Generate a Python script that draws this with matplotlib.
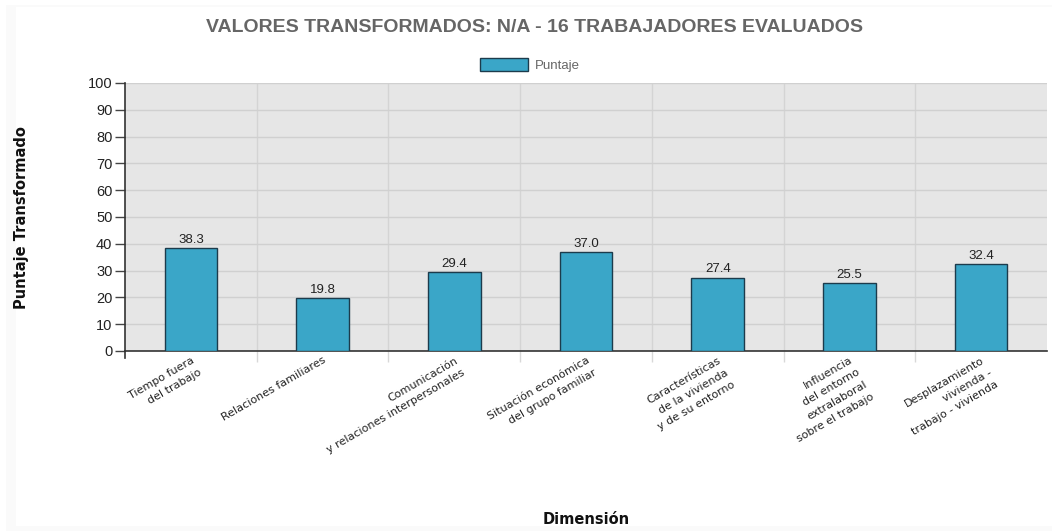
import matplotlib
matplotlib.use("Agg")
import matplotlib.pyplot as plt
from matplotlib.patches import Rectangle, Patch
from matplotlib.transforms import ScaledTranslation

categories = [
    "Tiempo fuera\ndel trabajo",
    "Relaciones familiares",
    "Comunicación\ny relaciones interpersonales",
    "Situación económica\ndel grupo familiar",
    "Características\nde la vivienda\ny de su entorno",
    "Influencia\ndel entorno\nextralaboral\nsobre el trabajo",
    "Desplazamiento\nvivienda -\ntrabajo - vivienda",
]
values = [38.3, 19.8, 29.4, 37.0, 27.4, 25.5, 32.4]
yticks = [0, 10, 20, 30, 40, 50, 60, 70, 80, 90, 100]

title = "VALORES TRANSFORMADOS: N/A - 16 TRABAJADORES EVALUADOS"
arial = ["Liberation Sans", "DejaVu Sans"]

fig = plt.figure(figsize=(10.52, 5.31), dpi=100, facecolor="white")
# very faint outer panel edges
faint = "#fafafa"
fig.patches.append(Rectangle((6/1052, 0), 10/1052, 1 - 5/531, transform=fig.transFigure,
                             facecolor=faint, edgecolor="none", zorder=-10))
fig.patches.append(Rectangle((6/1052, 1 - 7/531), 1, 2/531, transform=fig.transFigure,
                             facecolor=faint, edgecolor="none", zorder=-10))
fig.patches.append(Rectangle((6/1052, 0), 1, 5/531, transform=fig.transFigure,
                             facecolor=faint, edgecolor="none", zorder=-10))

ax = fig.add_axes([125/1052, 180/531, 922/1052, 268/531])
ax.set_facecolor("#e6e6e6")

x = list(range(len(categories)))
bars = ax.bar(x, values, width=0.4, color="#3aa6c8", edgecolor="#1c3b4c", linewidth=1.0, zorder=3)
ax.bar_label(bars, labels=[f"{v:.1f}" for v in values], padding=1.5, fontsize=9.5,
             color="#222222", family=arial)

ax.set_xlim(-0.5, len(categories) - 0.5)
ax.set_ylim(0, 100)
ax.set_yticks(yticks)
ax.set_yticklabels([str(t) for t in yticks], fontsize=10.5, color="#222222", family=arial)
ax.set_xticks(x)
ax.set_xticklabels(categories, rotation=30, ha="right", va="top", rotation_mode="anchor",
                   fontsize=8, color="#222222", multialignment="right", linespacing=1.52)
shift = ScaledTranslation(-4/100, 0, fig.dpi_scale_trans)
for lbl in ax.get_xticklabels():
    lbl.set_transform(lbl.get_transform() + shift)
ax.set_xticks([i + 0.5 for i in x[:-1]], minor=True)

ax.tick_params(axis="x", which="major", length=0, pad=3)
ax.tick_params(axis="x", which="minor", length=8, color="#d8d8d8", width=1)
ax.tick_params(axis="y", which="major", length=7, color="#444444", width=1, pad=2)

ax.grid(axis="y", which="major", color="#d0d0d0", linewidth=1, zorder=0)
ax.grid(axis="x", which="minor", color="#d4d4d4", linewidth=1, zorder=0)
ax.set_axisbelow(True)

for s in ["top", "right"]:
    ax.spines[s].set_visible(False)
for s in ["left", "bottom"]:
    ax.spines[s].set_color("#333333")
    ax.spines[s].set_linewidth(1.2)
ax.plot([0, 0], [0, -0.027], transform=ax.transAxes, color="#333333", lw=1.2, clip_on=False)

fig.text(535/1052, 1 - 27/531, title, ha="center", va="center", fontsize=14,
         fontweight="bold", color="#666666", family=arial)
fig.text(22/1052, 1 - 218/531, "Puntaje Transformado", rotation=90, ha="center", va="center",
         fontsize=10.5, fontweight="bold", color="#111111")
fig.text(586/1052, 1 - 519/531, "Dimensión", ha="center", va="center",
         fontsize=10.5, fontweight="bold", color="#111111")

handle = Patch(facecolor="#3aa6c8", edgecolor="#1c3b4c", linewidth=1.0)
leg = fig.legend([handle], ["Puntaje"], loc="center", bbox_to_anchor=(530/1052, 1 - 65/531),
                 frameon=False, handlelength=3.6, handleheight=1.1, handletextpad=0.5,
                 prop={"family": arial, "size": 9.5})
for t in leg.get_texts():
    t.set_color("#666666")

fig.savefig("out.png", dpi=100, facecolor="white")
